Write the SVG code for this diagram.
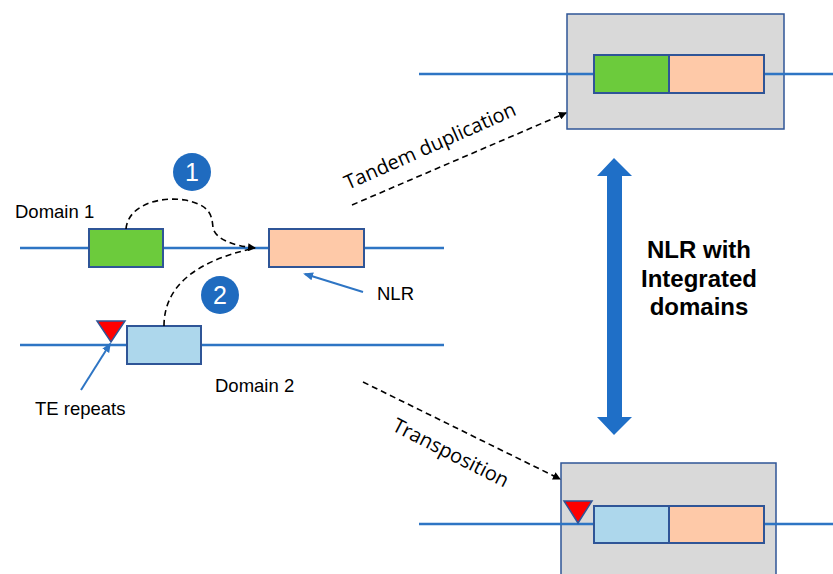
<svg xmlns="http://www.w3.org/2000/svg" width="833" height="574" viewBox="0 0 833 574">
<style>
.dna{stroke:#2E75C4;stroke-width:2.5;fill:none}
.box{stroke:#2F5597;stroke-width:2}
.lbl{font-family:"Liberation Sans",Arial,sans-serif;font-size:18.5px;fill:#000}
.rot{font-family:"Open Sans","Liberation Sans",sans-serif;font-size:20px;fill:#000}
.dash{stroke:#000;stroke-width:1.6;stroke-dasharray:6 4;fill:none}
.num{font-family:"Liberation Sans",Arial,sans-serif;font-size:25px;fill:#fff;text-anchor:middle}
.big{font-family:"Liberation Sans",Arial,sans-serif;font-size:24px;font-weight:bold;fill:#000;text-anchor:middle}
</style>
<defs>
<marker id="ah" markerWidth="8" markerHeight="8" refX="7" refY="4" orient="auto" markerUnits="userSpaceOnUse" viewBox="0 0 8 8">
<path d="M0,0 L8,4 L0,8 Z" fill="#000"/>
</marker>
<marker id="bh" markerWidth="10" markerHeight="10" refX="8" refY="5" orient="auto" markerUnits="userSpaceOnUse" viewBox="0 0 10 10">
<path d="M0,1 L10,5 L0,9 Z" fill="#2E75C4"/>
</marker>
</defs>

<g id="line1"><line class="dna" x1="20" y1="248" x2="444" y2="248"/></g>
<g id="line2"><line class="dna" x1="20" y1="345" x2="444" y2="345"/></g>

<g id="domain1">
<rect class="box" x="89" y="229" width="74" height="38" fill="#6CCB3C"/>
<text class="lbl" x="15" y="218">Domain 1</text>
</g>
<g id="nlr">
<rect class="box" x="269" y="229" width="95" height="38" fill="#FEC9A8"/>
<text class="lbl" x="377" y="300">NLR</text>
</g>
<g id="domain2">
<rect class="box" x="127" y="326" width="74" height="38" fill="#ADD7EC"/>
<text class="lbl" x="215" y="392">Domain 2</text>
</g>
<g id="te">
<polygon points="97,321 125,321 111,342" fill="#FF0000" stroke="#2F5597" stroke-width="1.5"/>
<text class="lbl" x="35" y="415">TE repeats</text>
</g>
<g id="step1">
<circle cx="192" cy="172" r="19" fill="#1F6BBF"/>
<text class="num" x="192" y="181">1</text>
</g>
<g id="step2">
<circle cx="220" cy="295" r="19" fill="#1F6BBF"/>
<text class="num" x="220" y="304">2</text>
</g>

<g id="top-result">
<rect x="567" y="14" width="217" height="115" fill="#D9D9D9" stroke="#2F5597" stroke-width="1.5"/>
<line class="dna" x1="419" y1="74" x2="833" y2="74"/>
<rect class="box" x="594" y="55" width="75" height="38" fill="#6CCB3C"/>
<rect class="box" x="669" y="55" width="95" height="38" fill="#FEC9A8"/>
</g>

<g id="bottom-result">
<rect x="561" y="463" width="215" height="120" fill="#D9D9D9" stroke="#2F5597" stroke-width="1.5"/>
<line class="dna" x1="419" y1="524" x2="833" y2="524"/>
<rect class="box" x="594" y="506" width="75" height="37" fill="#ADD7EC"/>
<rect class="box" x="669" y="506" width="95" height="37" fill="#FEC9A8"/>
<polygon points="564,501 592,501 578,523" fill="#FF0000" stroke="#2F5597" stroke-width="1.5"/>
</g>

<g id="label-integrated">
<text class="big" x="699" y="258">NLR with</text>
<text class="big" x="699" y="287">Integrated</text>
<text class="big" x="699" y="315">domains</text>
</g>

<g id="connectors">
<path class="dash" d="M126,229 C128,205 160,196 185,200 C210,205 212,215 213,228 C216,240 235,246 255,248" marker-end="url(#ah)"/>
<path class="dash" d="M164,326 C164,290 190,262 255,248"/>
<path class="dash" d="M352,205 L566,113" marker-end="url(#ah)"/>
<path class="dash" d="M363,382 L560,479" marker-end="url(#ah)"/>
<line x1="363" y1="292" x2="305" y2="274" stroke="#2E75C4" stroke-width="2" marker-end="url(#bh)"/>
<line x1="81" y1="390" x2="110" y2="344" stroke="#2E75C4" stroke-width="2" marker-end="url(#bh)"/>
<polygon points="614,158 632,176 622,176 622,417 632,417 614,435 597,417 607,417 607,176 597,176" fill="#1F6FC7"/>
<text class="rot" transform="translate(348,190) rotate(-24)">Tandem duplication</text>
<text class="rot" transform="translate(391,430) rotate(27)">Transposition</text>
</g>
</svg>
